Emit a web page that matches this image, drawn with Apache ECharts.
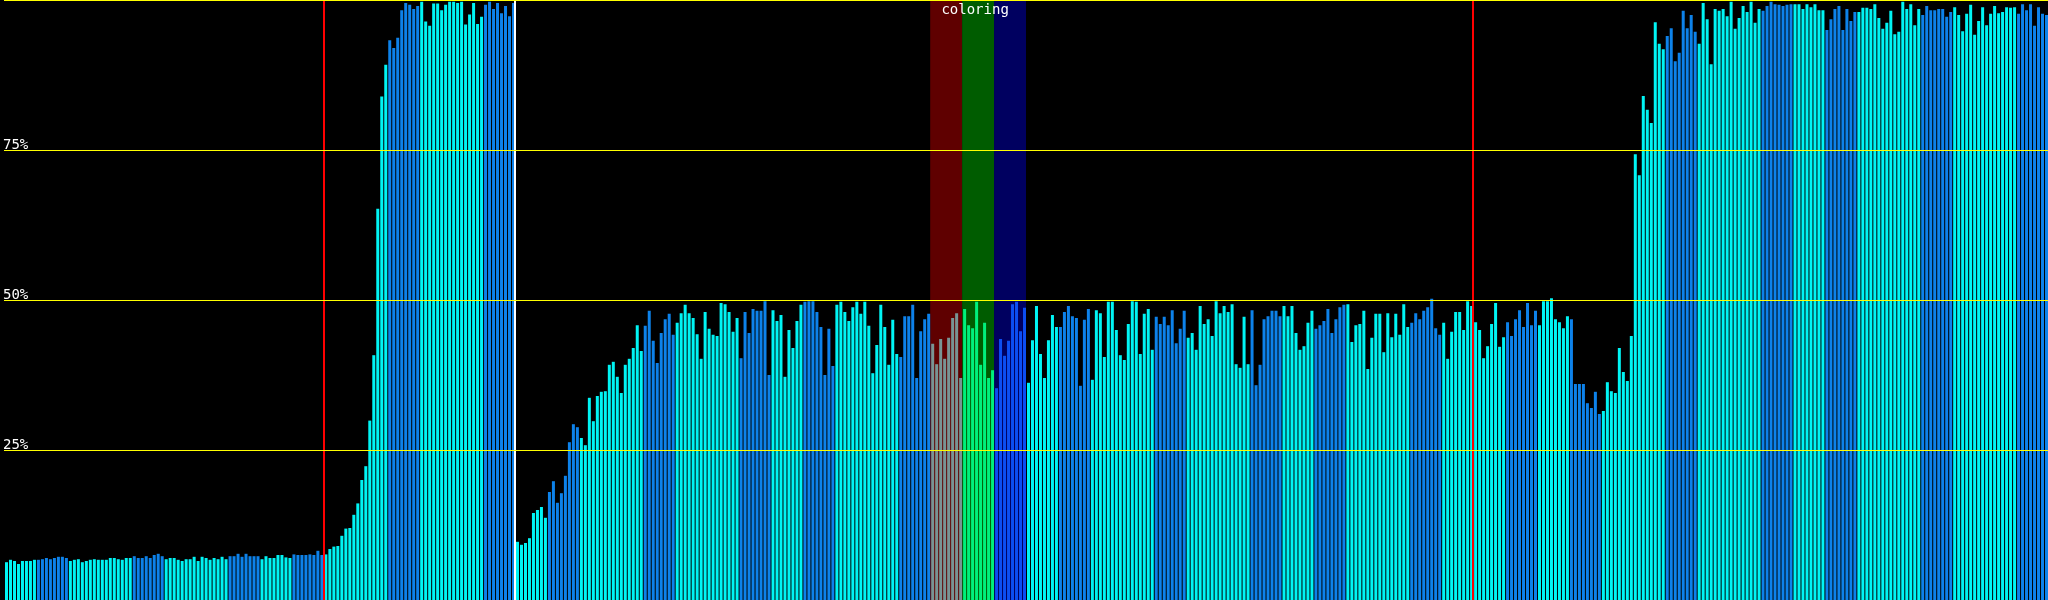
<!DOCTYPE html>
<html><head><meta charset="utf-8">
<script src="https://cdn.jsdelivr.net/npm/echarts@6/dist/echarts.min.js"></script>
<style>html,body{margin:0;padding:0;background:#000;overflow:hidden}#c{width:2048px;height:600px}</style>
</head><body><div id="c"></div>
<script>
// ---- data (percent per bar, 512 bars in 8 segments of 64) ----
const segA = [6.3,6.7,6.5,6.0,6.5,6.5,6.5,6.7, 6.7,6.8,7.0,6.8,7.0,7.2,7.2,7.0, 6.5,6.7,6.8,6.3,6.5,6.7,6.8,6.7, 6.7,6.7,7.0,7.0,6.8,6.7,7.0,7.0, 7.3,7.0,7.0,7.3,7.0,7.5,7.7,7.3, 6.8,7.0,7.0,6.7,6.5,6.8,6.8,7.2, 6.5,7.2,7.0,6.7,7.0,6.8,7.2,6.8, 7.3,7.3,7.7,7.2,7.7,7.3,7.3,7.3];
const segB = [6.8,7.3,7.0,7.0,7.5,7.5,7.1,7.0, 7.6,7.5,7.5,7.5,7.6,7.5,8.2,7.5, 7.6,8.5,8.9,9.0,10.7,11.9,12.0,14.2, 16.1,20.0,22.3,29.9,40.8,65.2,83.9,89.2, 93.3,92.0,93.7,98.3,99.5,99.2,98.5,99.0, 99.7,96.4,95.7,99.4,99.4,98.3,99.2,99.7, 99.7,99.5,99.7,95.9,97.6,99.5,96.0,97.2, 99.2,99.7,98.5,99.5,97.8,99.0,97.3,99.5];
const segC = [9.7,9.2,9.5,10.3,14.5,15.0,15.5,13.7, 18.0,19.8,16.2,17.8,20.7,26.3,29.3,28.8, 27.0,25.8,33.7,29.8,34.0,34.7,34.8,39.2, 39.7,37.2,34.5,39.2,40.2,42.0,45.8,41.5, 45.7,48.2,43.2,39.5,44.5,46.8,47.7,44.2, 46.2,47.8,49.2,47.8,47.0,44.3,40.2,48.0, 45.2,44.2,44.0,49.5,49.3,48.0,44.7,47.0, 40.3,48.0,44.5,48.5,48.2,48.2,49.8,37.5];
const segD = [48.3,46.5,47.5,37.2,45.0,42.0,46.5,49.2, 49.7,49.8,49.8,48.0,45.5,37.5,45.2,39.0, 49.2,49.7,48.0,46.5,48.8,49.7,47.7,49.7, 45.7,37.8,42.5,49.2,45.5,39.2,46.7,41.0, 40.5,47.3,47.3,49.2,37.0,44.8,46.8,47.7, 42.7,39.3,43.5,40.2,43.7,47.0,47.8,37.0, 48.5,45.8,45.3,49.7,39.2,46.2,37.0,38.3, 35.3,43.5,40.7,43.2,49.3,49.7,44.8,48.7];
const segE = [36.2,43.3,49.0,41.0,37.0,43.3,47.5,45.5, 45.5,48.0,49.0,47.3,47.0,35.7,46.7,48.5, 36.7,48.3,47.8,40.5,49.7,49.7,45.0,40.8, 40.0,46.0,49.8,49.7,41.0,47.7,48.5,41.7, 47.2,46.0,47.2,45.8,48.3,42.8,45.2,48.2, 43.7,44.5,41.7,49.0,46.0,46.8,44.0,49.8, 47.8,49.0,48.0,49.3,39.3,38.7,47.2,39.3, 48.3,35.8,39.2,46.8,47.3,48.2,48.2,47.3];
const segF = [49.0,47.3,49.0,44.5,41.7,42.3,46.2,48.2, 45.2,45.8,46.5,48.5,44.5,46.8,48.8,49.2, 49.3,43.0,45.8,46.0,48.2,38.5,43.7,47.7, 47.7,41.3,47.8,43.8,47.7,44.2,49.3,45.5, 46.2,47.8,46.8,48.2,48.8,50.2,45.3,44.2, 46.2,40.2,44.7,48.0,48.0,45.0,49.8,49.0, 46.3,45.0,40.3,42.3,46.0,49.5,42.2,43.8, 46.3,44.0,46.8,48.3,45.5,49.5,45.8,48.2];
const segG = [45.8,49.8,49.8,50.3,46.8,46.3,45.3,47.3, 46.8,36.0,36.0,36.0,32.8,32.0,34.7,31.0, 31.5,36.3,34.8,34.5,42.0,38.0,36.5,44.0, 74.3,70.8,84.0,81.7,79.5,96.3,92.7,91.8, 94.0,95.3,89.8,91.2,98.2,95.3,97.5,94.7, 92.7,99.5,96.8,89.3,98.5,98.2,98.5,97.3, 99.7,95.2,97.0,99.0,98.0,99.7,96.2,98.5, 98.2,99.0,99.7,99.3,99.2,99.0,99.2,99.3];
const segH = [99.3,99.3,98.5,99.3,98.8,99.3,98.3,98.3, 95.0,96.8,98.5,99.0,95.0,98.5,96.5,98.0, 98.0,98.7,98.7,98.5,99.3,97.0,95.2,96.2, 98.2,94.3,94.7,99.7,98.5,99.3,95.8,98.5, 97.5,99.0,98.3,98.3,98.5,98.5,97.2,98.0, 98.8,97.5,94.8,97.7,99.2,94.2,96.5,98.8, 95.8,97.7,99.0,97.8,98.0,98.8,98.7,98.8, 97.7,99.3,98.3,99.3,95.7,98.8,97.7,97.5];

// kind of each group of 8 bars: C = cyan, B = blue, R/G/U = red/green/blue "coloring" bands
const groupKinds = ['CBCCBCCB','CBCCBCCB','CBCCBCCB','CBCCBRGU','CBCCBCCB','CBCCBCCB','CBCCBCCB','CBCCBCCB'];
const barsPerGroup = 8;
const yTickLabels = {25: '25%', 50: '50%', 75: '75%'};
const redMarkers = [80, 368];
const whiteMarkers = [128];
const bandLabel = 'coloring';

// ---- styles ----
const kindColor = {C: '#00f4f4', B: '#0d82ea', R: '#789494', G: '#00f07c', U: '#0c4ef2'};
const bandColor = {R: '#5f0000', G: '#005c00', U: '#000060'};

const values = [].concat(segA, segB, segC, segD, segE, segF, segG, segH);
const kinds = groupKinds.join('').split('');
const N = values.length;

const barData = values.map((v, i) => {
  const k = kinds[Math.floor(i / barsPerGroup)];
  return {value: [i + 0.625, v], itemStyle: {color: kindColor[k]}};
});

const bandAreas = [];
kinds.forEach((k, g) => {
  if (bandColor[k]) {
    const item = {xAxis: g * barsPerGroup, itemStyle: {color: bandColor[k]}};
    if (k === 'G') item.label = {show: true, formatter: bandLabel, offset: [-3, 0]};
    bandAreas.push([item, {xAxis: (g + 1) * barsPerGroup}]);
  }
});

const vLines = redMarkers.map(x => ({xAxis: x, lineStyle: {color: '#ff0000', width: 2, type: 'solid'}}))
  .concat(whiteMarkers.map(x => ({xAxis: x, lineStyle: {color: '#ffffff', width: 2, type: 'solid'}})));

const chart = echarts.init(document.getElementById('c'), null, {renderer: 'canvas'});
chart.setOption({
  backgroundColor: '#000000',
  animation: false,
  grid: {left: 0, right: 0, top: 0, bottom: 0, containLabel: false},
  xAxis: {type: 'value', min: 0, max: N, show: false, splitLine: {show: false}},
  yAxis: {
    type: 'value', min: 0, max: 100, interval: 25, z: 10,
    axisLine: {show: false}, axisTick: {show: false},
    splitLine: {show: true, lineStyle: {color: '#ffff00', width: 1}},
    axisLabel: {
      inside: true, margin: -1, color: '#ffffff',
      fontFamily: 'DejaVu Sans Mono', fontSize: 14,
      verticalAlign: 'bottom', lineHeight: 10,
      formatter: v => yTickLabels[v] || ''
    }
  },
  series: [
    {
      type: 'line', data: [[0, 0]], symbol: 'none', lineStyle: {opacity: 0}, z: 1, silent: true,
      markArea: {
        silent: true,
        label: {position: 'insideTop', distance: 3, color: '#ffffff', fontFamily: 'DejaVu Sans Mono', fontSize: 14},
        data: bandAreas
      }
    },
    {
      type: 'bar', data: barData, barWidth: 3, z: 2, silent: true
    },
    {
      type: 'line', data: [[0, 0]], symbol: 'none', lineStyle: {opacity: 0}, z: 6, silent: true,
      markLine: {symbol: 'none', silent: true, label: {show: false}, data: vLines}
    }
  ]
});
</script>
</body></html>
